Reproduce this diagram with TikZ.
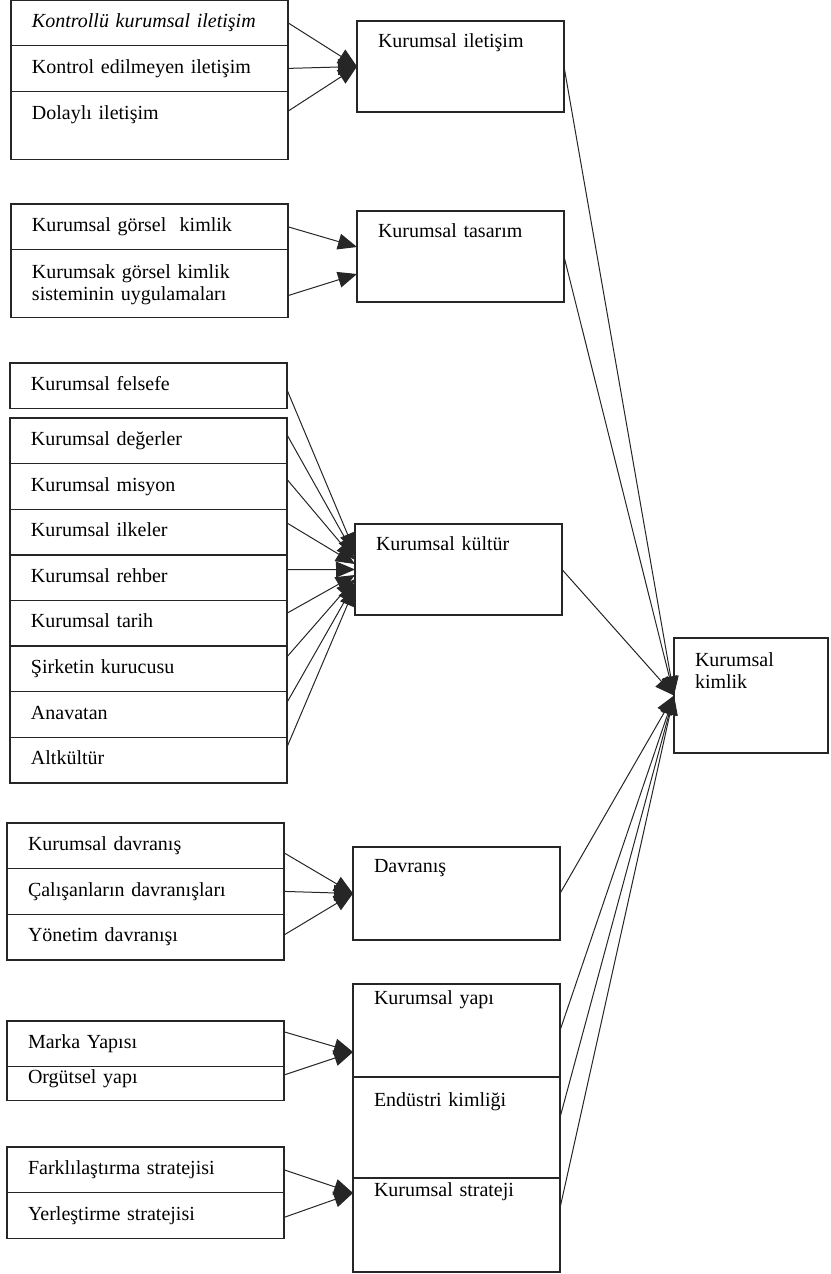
\documentclass[tikz,border=0pt]{standalone}
\usepackage{fontspec}
\setmainfont{Liberation Serif}
\usetikzlibrary{positioning,arrows.meta}

\begin{document}
\begin{tikzpicture}[x=0.5pt,y=-0.5pt,
  font=\fontsize{10pt}{11pt}\selectfont,
  item/.style={draw=black!85, line width=0.7pt, outer sep=0pt, anchor=north west,
    text width=117.5pt, align=left, inner xsep=10.5pt, inner ysep=0pt,
    text height=13.7pt, text depth=9.1pt},
  tallitem/.style={item, text height=14.3pt, text depth=19.7pt},
  lowitem/.style={item, text height=8.3pt, text depth=8.7pt},
  block/.style={item, text width=82.5pt, text height=13.3pt, text depth=32.2pt},
  link/.style={black!85, line width=0.5pt, -{Triangle[length=9.5pt,width=8pt]}}]
  \useasboundingbox (0,0) rectangle (830,1274);

  % left column
  \node (kontrollu) [item] at (11,0) {\textit{Kontrollü kurumsal iletişim}};
  \node (kontrolsuz) [item, below=0pt of kontrollu] {Kontrol edilmeyen iletişim};
  \node (dolayli) [tallitem, below=0pt of kontrolsuz] {Dolaylı iletişim};

  \node (gorsel) [item] at (11,204) {Kurumsal görsel\ \ kimlik};
  \node (sistem) [tallitem, below=0pt of gorsel] {Kurumsak görsel kimlik\\sisteminin uygulamaları};

  \node (felsefe) [item] at (10,363) {Kurumsal felsefe};
  \node (degerler) [item] at (10,418) {Kurumsal değerler};
  \node (misyon) [item, below=0pt of degerler] {Kurumsal misyon};
  \node (ilkeler) [item, below=0pt of misyon] {Kurumsal ilkeler};
  \node (rehber) [item, below=0pt of ilkeler] {Kurumsal rehber};
  \node (tarih) [item, below=0pt of rehber] {Kurumsal tarih};
  \node (kurucu) [item, below=0pt of tarih] {Şirketin kurucusu};
  \node (anavatan) [item, below=0pt of kurucu] {Anavatan};
  \node (altkultur) [item, below=0pt of anavatan] {Altkültür};

  \node (kdavranis) [item] at (7,823) {Kurumsal davranış};
  \node (calisan) [item, below=0pt of kdavranis] {Çalışanların davranışları};
  \node (yonetim) [item, below=0pt of calisan] {Yönetim davranışı};

  \node (marka) [item] at (7,1021) {Marka Yapısı};
  \node (orgutsel) [lowitem, below=0pt of marka] {Orgütsel yapı};

  \node (farklilastirma) [item] at (7,1147) {Farklılaştırma stratejisi};
  \node (yerlestirme) [item, below=0pt of farklilastirma] {Yerleştirme stratejisi};

  % middle column
  \node (iletisim) [block] at (357,21) {Kurumsal iletişim};
  \node (tasarim) [block] at (357,211) {Kurumsal tasarım};
  \node (kultur) [block] at (355,524) {Kurumsal kültür};
  \node (davranis) [block, text height=12.8pt, text depth=33.7pt] at (353,847) {Davranış};
  \node (yapi) [block, text height=10.3pt, text depth=36.2pt] at (353,984) {Kurumsal yapı};
  \node (endustri) [block, text height=14.8pt, text depth=35.7pt, below=0pt of yapi] {Endüstri kimliği};
  \node (strateji) [block, text height=9.3pt, text depth=37.7pt, below=0pt of endustri] {Kurumsal strateji};

  % right
  \node (kimlik) [block, text width=56pt, text height=14.3pt, text depth=43.2pt] at (674,638) {Kurumsal\\kimlik};

  \path[link]
    (kontrollu.east) edge (iletisim.west)
    (kontrolsuz.east) edge (iletisim.west)
    ([yshift=7pt]dolayli.east) edge (iletisim.west)
    (gorsel.east) edge ([yshift=4.75pt]tasarim.west)
    ([yshift=-6pt]sistem.east) edge ([yshift=-8.75pt]tasarim.west)
    ([yshift=-2pt]felsefe.east) edge ([yshift=8.75pt]kultur.west)
    ([yshift=3pt]degerler.east) edge ([yshift=6.75pt]kultur.west)
    ([yshift=3.5pt]misyon.east) edge ([yshift=4.75pt]kultur.west)
    ([yshift=4.5pt]ilkeler.east) edge ([yshift=2.75pt]kultur.west)
    ([yshift=4pt]rehber.east) edge (kultur.west)
    ([yshift=5pt]tarih.east) edge ([yshift=-2.75pt]kultur.west)
    ([yshift=6pt]kurucu.east) edge ([yshift=-4.75pt]kultur.west)
    ([yshift=6pt]anavatan.east) edge ([yshift=-6.75pt]kultur.west)
    ([yshift=6.5pt]altkultur.east) edge ([yshift=-8.75pt]kultur.west)
    ([yshift=-3.5pt]kdavranis.east) edge (davranis.west)
    (calisan.east) edge (davranis.west)
    ([yshift=1pt]yonetim.east) edge (davranis.west)
    ([yshift=6pt]marka.east) edge ([yshift=-10.75pt]yapi.west)
    ([yshift=4.3pt]orgutsel.east) edge ([yshift=-10.75pt]yapi.west)
    (farklilastirma.east) edge ([yshift=16pt]strateji.west)
    ([yshift=-1pt]yerlestirme.east) edge ([yshift=16pt]strateji.west)
    (iletisim.east) edge (kimlik.west)
    (tasarim.east) edge (kimlik.west)
    (kultur.east) edge (kimlik.west)
    (davranis.east) edge (kimlik.west)
    (yapi.east) edge (kimlik.west)
    ([yshift=5pt]endustri.east) edge (kimlik.west)
    ([yshift=8.5pt]strateji.east) edge (kimlik.west);

\end{tikzpicture}
\end{document}
